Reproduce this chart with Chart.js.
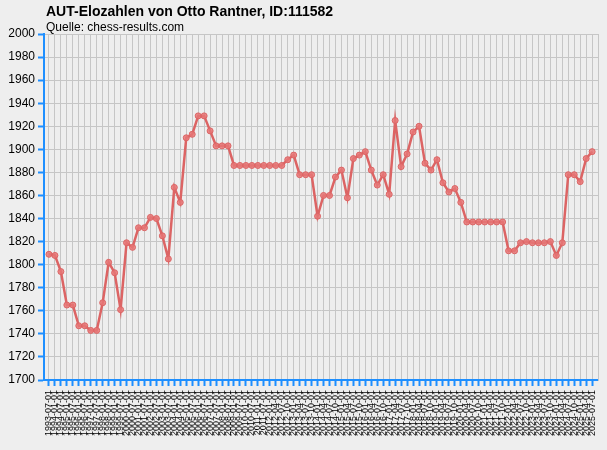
<!DOCTYPE html>
<html>
<head>
<meta charset="utf-8">
<script src="https://cdn.jsdelivr.net/npm/chart.js@4.4.1/dist/chart.umd.min.js"></script>
<style>
  html, body { margin: 0; padding: 0; background: #eeeeee; }
  #wrap { width: 607px; height: 450px; }
</style>
</head>
<body>
<div id="wrap"><canvas id="eloChart"></canvas></div>
<script>
// Chart texts
const chartTitle = 'AUT-Elozahlen von Otto Rantner, ID:111582';
const chartSource = 'Quelle: chess-results.com';

// Rating list dates (x axis)
const listDates = [
  '1993-07-01',
  '1994-01-01', '1994-07-01', '1995-01-01', '1995-07-01', '1996-01-01', '1996-07-01',
  '1997-01-01', '1997-07-01', '1998-01-01', '1998-07-01', '1999-01-01', '1999-07-01',
  '2000-01-01', '2000-07-01', '2001-01-01', '2001-07-01', '2002-01-01', '2002-07-01',
  '2003-01-01', '2003-07-01', '2004-01-01', '2004-07-01', '2005-01-01', '2005-07-01',
  '2006-01-01', '2006-07-01', '2007-01-01', '2007-07-01', '2008-01-01', '2008-07-01',
  '2009-01-01', '2009-07-01', '2010-01-01', '2010-07-01', '2011-01-01', '2011-07-01',
  '2012-01-01', '2012-04-01', '2012-07-01', '2012-10-01',
  '2013-01-01', '2013-04-01', '2013-07-01', '2013-10-01',
  '2014-01-01', '2014-04-01', '2014-07-01', '2014-10-01',
  '2015-01-01', '2015-04-01', '2015-07-01', '2015-10-01',
  '2016-01-01', '2016-04-01', '2016-07-01', '2016-10-01',
  '2017-01-01', '2017-04-01', '2017-07-01', '2017-10-01',
  '2018-01-01', '2018-04-01', '2018-07-01', '2018-10-01',
  '2019-01-01', '2019-04-01', '2019-07-01', '2019-10-01',
  '2020-01-01', '2020-04-01', '2020-07-01', '2020-10-01',
  '2021-01-01', '2021-04-01', '2021-07-01', '2021-10-01',
  '2022-01-01', '2022-04-01', '2022-07-01', '2022-10-01',
  '2023-01-01', '2023-04-01', '2023-07-01', '2023-10-01',
  '2024-01-01', '2024-04-01', '2024-07-01', '2024-10-01',
  '2025-01-01', '2025-04-01', '2025-07-01'
];

// Elo values, one per list
const eloValues = [
  1809, 1808, 1794, 1765, 1765, 1747, 1747, 1743, 1743, 1767,
  1802, 1793, 1761, 1819, 1815, 1832, 1832, 1841, 1840, 1825,
  1805, 1867, 1854, 1910, 1913, 1929, 1929, 1916, 1903, 1903,
  1903, 1886, 1886, 1886, 1886, 1886, 1886, 1886, 1886, 1886,
  1891, 1895, 1878, 1878, 1878, 1842, 1860, 1860, 1876, 1882,
  1858, 1892, 1895, 1898, 1882, 1869, 1878, 1861, 1925, 1885,
  1896, 1915, 1920, 1888, 1882, 1891, 1871, 1863, 1866, 1854,
  1837, 1837, 1837, 1837, 1837, 1837, 1837, 1812, 1812, 1819,
  1820, 1819, 1819, 1819, 1820, 1808, 1819, 1878, 1878, 1872,
  1892, 1898
];

// Y axis range
const yMin = 1700;
const yMax = 2000;
const yStep = 20;

const colors = {
  axis: '#1e8fff',
  grid: '#c6c6c6',
  line: '#dc6464',
  point: 'rgba(230, 118, 118, 0.85)',
  text: '#000000'
};

Chart.defaults.font.family = '"Liberation Sans", Arial, sans-serif';
Chart.defaults.color = colors.text;

// Title and source line, top left
const headerPlugin = {
  id: 'header',
  afterDraw(chart) {
    const ctx = chart.ctx;
    ctx.save();
    ctx.fillStyle = colors.text;
    ctx.textAlign = 'left';
    ctx.textBaseline = 'alphabetic';
    ctx.font = 'bold 14px "Liberation Sans", Arial, sans-serif';
    ctx.fillText(chartTitle, 46, 16);
    ctx.font = '12px "Liberation Sans", Arial, sans-serif';
    ctx.fillText(chartSource, 46, 31);
    ctx.restore();
  }
};

document.addEventListener('DOMContentLoaded', function() {
  const ctx = document.getElementById('eloChart');
  new Chart(ctx, {
    type: 'line',
    data: {
      datasets: [{
        label: 'Elo',
        data: eloValues.map((v, i) => ({ x: i, y: v })),
        borderColor: colors.line,
        borderWidth: 2.5,
        pointRadius: 3,
        pointBackgroundColor: colors.point,
        pointBorderColor: colors.line,
        pointBorderWidth: 1,
        tension: 0
      }]
    },
    options: {
      responsive: true,
      maintainAspectRatio: false,
      animation: false,
      layout: {
        padding: { top: 34, right: 4, left: 0, bottom: 0 }
      },
      plugins: {
        legend: { display: false },
        tooltip: { enabled: false }
      },
      scales: {
        x: {
          type: 'linear',
          min: -0.83,
          max: 92.05,
          afterBuildTicks: function(scale) {
            scale.ticks = listDates.map((d, i) => ({ value: i }));
          },
          afterFit: function(scale) {
            scale.height = 70;
          },
          ticks: {
            autoSkip: false,
            minRotation: 90,
            maxRotation: 90,
            padding: 4,
            font: { size: 9 },
            callback: function(value) {
              return listDates[value];
            }
          },
          grid: {
            color: colors.grid,
            lineWidth: 1,
            tickColor: colors.axis,
            tickLength: 6,
            tickWidth: 2
          },
          border: { color: colors.axis, width: 2 }
        },
        y: {
          min: yMin,
          max: yMax,
          afterFit: function(scale) {
            scale.width = 44;
          },
          ticks: {
            stepSize: yStep,
            padding: 3,
            font: { size: 12 },
            callback: function(value) {
              return String(value);
            }
          },
          grid: {
            color: colors.grid,
            lineWidth: 1,
            tickColor: colors.axis,
            tickLength: 6,
            tickWidth: 2
          },
          border: { color: colors.axis, width: 2 }
        },
        yRight: {
          position: 'right',
          min: yMin,
          max: yMax,
          afterFit: function(scale) {
            scale.width = 1;
          },
          ticks: { display: false },
          grid: { display: false, drawTicks: false },
          border: { color: colors.grid, width: 1 }
        }
      }
    },
    plugins: [headerPlugin]
  });
});
</script>
</body>
</html>
